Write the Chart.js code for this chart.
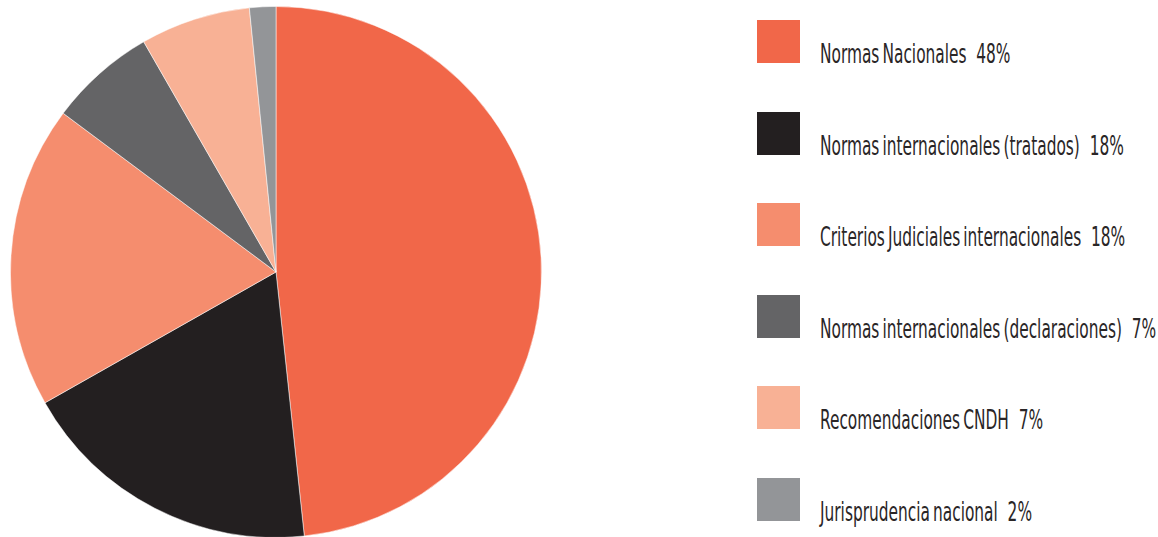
<!DOCTYPE html>
<html>
<head>
<meta charset="utf-8">
<script src="https://cdn.jsdelivr.net/npm/chart.js@4"></script>
<style>
  html, body { margin: 0; padding: 0; background: #fff; width: 1158px; height: 537px; overflow: hidden; }
  #pieWrap { position: absolute; left: 10px; top: 6px; width: 532px; height: 532px; }
  #legend { position: absolute; left: 757px; top: 20px; }
  .lg-row { position: absolute; left: 0; width: 420px; height: 43px; }
  .lg-box { position: absolute; left: 0; top: 0; width: 43px; height: 43px; }
  .lg-txt { position: absolute; left: 63px; top: 21px; line-height: 26px; font-size: 26px; white-space: pre;
            font-family: "Liberation Sans Narrow", "DejaVu Sans Condensed", sans-serif; color: #2a2627;
            transform-origin: 0 50%; }
</style>
</head>
<body>
<div id="pieWrap"><canvas id="pie"></canvas></div>
<div id="legend"></div>
<script>
  /* ---- Daten ---- */
  const labels = ['Normas Nacionales', 'Normas internacionales (tratados)', 'Criterios Judiciales internacionales',
                  'Normas internacionales (declaraciones)', 'Recomendaciones CNDH', 'Jurisprudencia nacional'];
  const shares = [48.3, 18.5, 18.4, 6.5, 6.7, 1.6];
  const pctLabels = ['48%', '18%', '18%', '7%', '7%', '2%'];
  const colors = ['#f16749', '#231f20', '#f58d6e', '#646466', '#f8b195', '#939598'];

  /* ---- Kreisdiagramm ---- */
  new Chart(document.getElementById('pie'), {
    type: 'pie',
    data: { labels, datasets: [{ data: shares, backgroundColor: colors, borderColor: 'rgba(255,255,255,0.5)', borderWidth: 1 }] },
    options: {
      responsive: true, maintainAspectRatio: false, animation: false,
      layout: { padding: 0 },
      plugins: { legend: { display: false }, tooltip: { enabled: false } },
    },
  });

  /* ---- Legende (HTML) ---- */
  const lg = document.getElementById('legend');
  const rowGap = 91.6;
  labels.forEach((l, i) => {
    const row = document.createElement('div');
    row.className = 'lg-row';
    row.style.top = Math.round(i * rowGap) + 'px';
    row.innerHTML = '<div class="lg-box" style="background:' + colors[i] + '"></div>' +
      '<span class="lg-txt">' + l.replace(/ /g, '\u2009') + '  ' + pctLabels[i] + '</span>';
    lg.appendChild(row);
  });
  // schmalere Schrift nachbilden: Breite der längsten Zeile auf ~336px bringen
  const spans = [...document.querySelectorAll('.lg-txt')];
  const w = spans[3].getBoundingClientRect().width;
  const sx = 336 / w;
  spans.forEach(s => s.style.transform = 'scaleX(' + sx.toFixed(3) + ')');
</script>
</body>
</html>
